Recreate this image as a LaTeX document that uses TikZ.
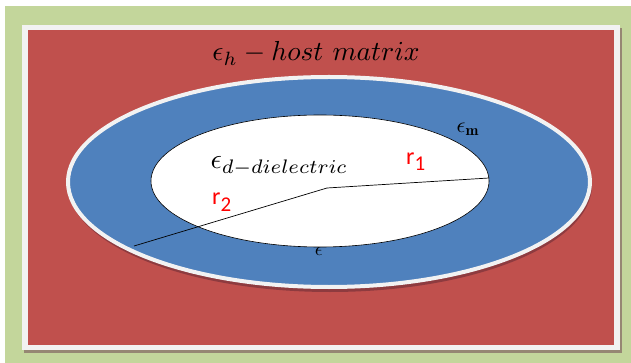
\documentclass[tikz,border=0pt]{standalone}
\usepackage{fontspec}
\usepackage{amsmath}
\newfontfamily\carlito{Carlito}
\definecolor{bggreen}{HTML}{C3D69B}
\definecolor{hostred}{HTML}{C0504D}
\definecolor{shellblue}{HTML}{4F81BD}
\definecolor{framewhite}{HTML}{F2F2F2}
\definecolor{frameshadow}{RGB}{150,135,115}
\definecolor{ellshadow}{RGB}{110,45,55}
\begin{document}
\begin{tikzpicture}[x=1pt,y=-1pt,
  mathlabel/.style={inner sep=0pt, font=\normalsize},
  rlabel/.style={inner sep=0pt, text=red, font=\carlito\fontsize{24}{28}\selectfont},
  radius/.style={draw=black, line width=0.7pt}]
\useasboundingbox (0,0) rectangle (631,363);
\fill[white] (0,0) rectangle (631,363);
\fill[bggreen] (5,6) rectangle (631,363);
% frame
\fill[frameshadow] (24,28) rectangle (622,353);
\fill[framewhite] (22,25) rectangle (620,350);
\fill[hostred] (28,30) rectangle (614,345);
% outer ellipse (shell)
\fill[ellshadow, opacity=0.6] (330,185) ellipse [x radius=262, y radius=107];
\filldraw[fill=shellblue, draw=framewhite, line width=4pt] (329,182) ellipse [x radius=261, y radius=105];
% partially hidden label
\node[mathlabel, scale=2] (hid) at (319,251) {$\epsilon$};
% inner ellipse (dielectric core)
\filldraw[fill=white, draw=black, line width=0.6pt] (320,181) ellipse [x radius=169, y radius=66];
% radii
\coordinate (c) at (327,188);
\coordinate (e1) at (489,178);
\coordinate (e2) at (134,246);
\draw[radius] (c) -- (e1);
\draw[radius] (c) -- (e2);
% labels
\node[mathlabel, scale=2.75, anchor=base] (host) at (316,61) {$\epsilon_h - host\ matrix$};
\node[mathlabel, scale=2.8, anchor=base west] (diel) at (210,169) {$\epsilon_{d-dielectric}$};
\node[mathlabel, scale=2.2] (em) at (468,129) {$\epsilon_{\mathbf{m}}$};
\node[rlabel, anchor=base west] (r1) at (406,165) {r\raisebox{-6pt}{\fontsize{21}{24}\selectfont 1}};
\node[rlabel, anchor=base west] (r2) at (212,205) {r\raisebox{-6pt}{\fontsize{21}{24}\selectfont 2}};
\end{tikzpicture}
\end{document}
